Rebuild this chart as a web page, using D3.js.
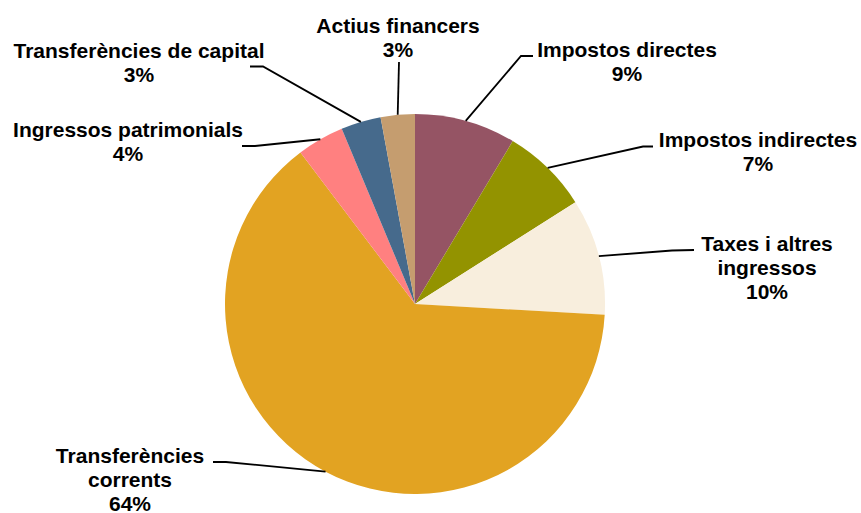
<!DOCTYPE html>
<html>
<head>
<meta charset="utf-8">
<script src="https://cdn.jsdelivr.net/npm/d3@7/dist/d3.min.js"></script>
<style>
  html, body { margin: 0; padding: 0; background: #fff; }
  svg { display: block; }
  text { font-family: "Liberation Sans", Arial, sans-serif; font-weight: bold; fill: #000; }
</style>
</head>
<body>
<svg id="chart" width="861" height="513"></svg>
<script>
// ---- data ----
const categories = [
  "Impostos directes",
  "Impostos indirectes",
  "Taxes i altres\ningressos",
  "Transferències\ncorrents",
  "Ingressos patrimonials",
  "Transferències de capital",
  "Actius financers"
];
const values = [8.6, 7.4, 9.9, 63.8, 4.0, 3.4, 2.9];
const colors = ["#955464", "#939300", "#F8EEDD", "#E2A322", "#FF8080", "#466A8C", "#C59D6F"];

// ---- layout (label anchor + leader elbow), not data ----
const labelLayout = [
  { x: 627, y: 57,  elbow: [[521, 56], [533, 56]] },
  { x: 758, y: 147, elbow: [[643, 146.5], [653, 146.5]] },
  { x: 767, y: 251, elbow: [[672, 250.5], [694, 250]] },
  { x: 130, y: 463, elbow: [[226, 462], [213, 462]] },
  { x: 128, y: 137, elbow: [[255, 146], [242, 146]] },
  { x: 139, y: 58,  elbow: [[263, 66.5], [250, 66.5]] },
  { x: 398, y: 33,  elbow: [[399, 62]] }
];

const svg = d3.select("#chart");
const cx = 415, cy = 304, R = 190;
const lineH = 24;

const data = categories.map((c, i) => ({ name: c, value: values[i], color: colors[i], layout: labelLayout[i] }));
const total = d3.sum(values);

const pie = d3.pie().sort(null).value(d => d.value);
const arc = d3.arc().innerRadius(0).outerRadius(R);
const arcs = pie(data);

const g = svg.append("g").attr("transform", `translate(${cx},${cy})`);
g.selectAll("path.slice")
  .data(arcs)
  .enter().append("path")
  .attr("class", "slice")
  .attr("d", arc)
  .attr("fill", d => d.data.color);

// leader lines
const line = d3.line();
arcs.forEach(a => {
  const mid = (a.startAngle + a.endAngle) / 2;
  const px = cx + R * Math.sin(mid);
  const py = cy - R * Math.cos(mid);
  const pts = [[px, py]].concat(a.data.layout.elbow);
  svg.append("path")
    .attr("d", line(pts))
    .attr("fill", "none")
    .attr("stroke", "#000")
    .attr("stroke-width", 1.8);
});

// labels
const fmt = v => Math.round(v / total * 100) + "%";
arcs.forEach(a => {
  const L = a.data.layout;
  const lines = a.data.name.split("\n").concat([fmt(a.data.value)]);
  const t = svg.append("text")
    .attr("text-anchor", "middle")
    .attr("font-size", 21);
  lines.forEach((s, k) => {
    t.append("tspan").attr("x", L.x).attr("y", L.y + k * lineH).text(s);
  });
});
</script>
</body>
</html>
